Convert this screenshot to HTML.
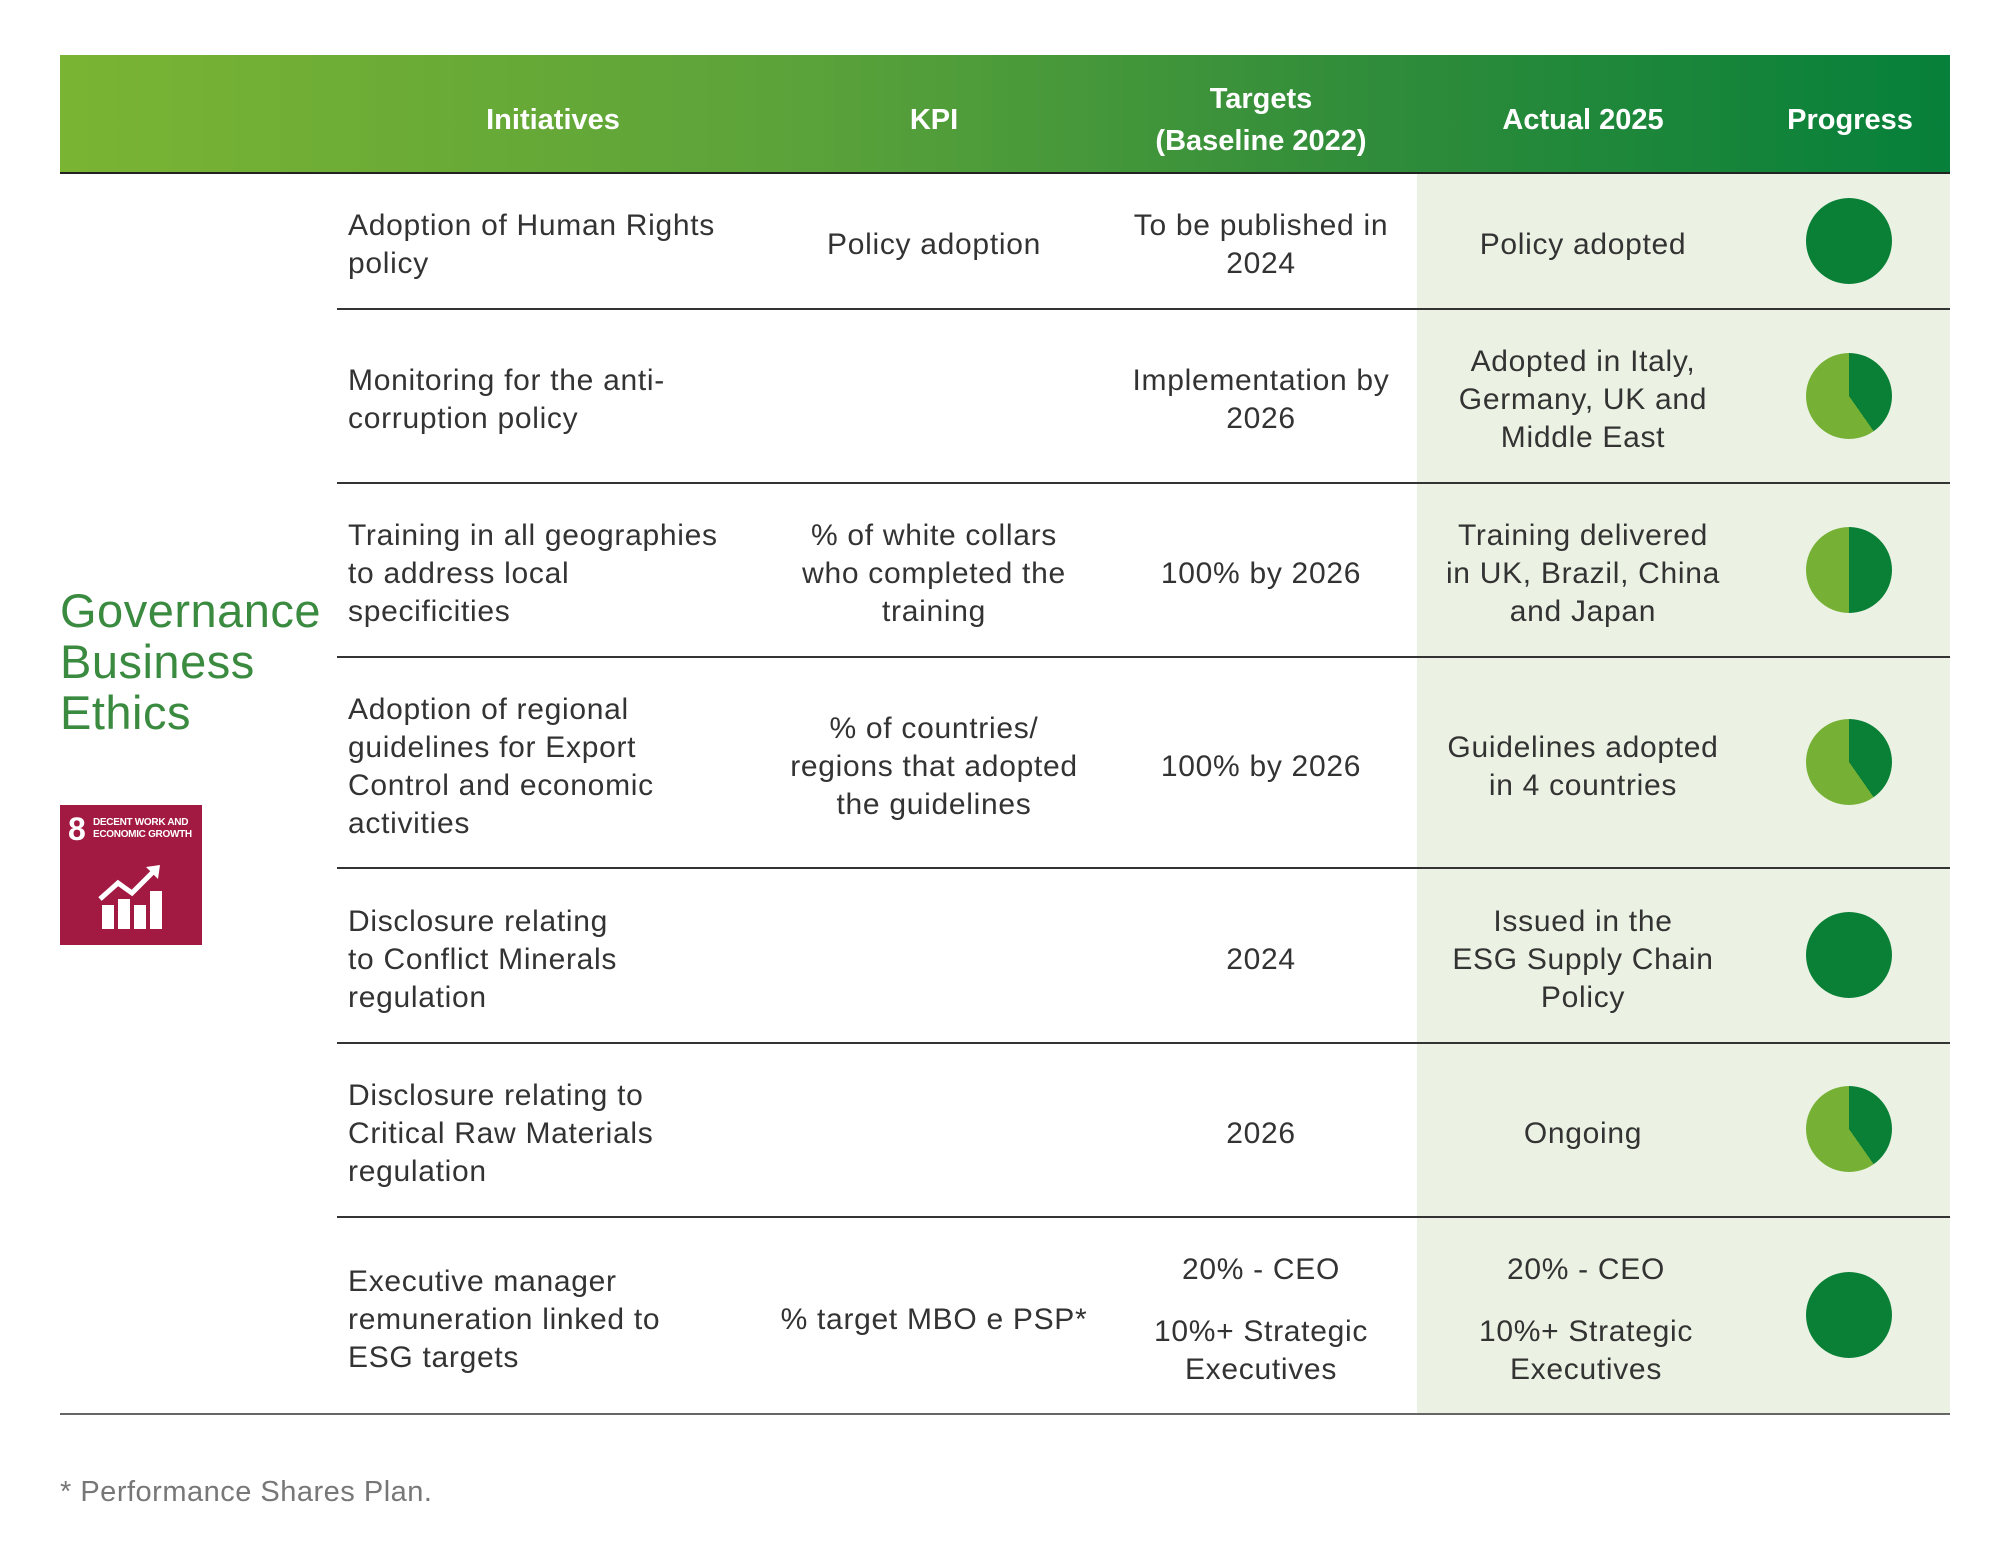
<!DOCTYPE html>
<html><head><meta charset="utf-8"><style>
body{margin:0;width:2010px;height:1561px;background:#fff;position:relative;overflow:hidden;font-family:"Liberation Sans",sans-serif;color:#333}
.a{position:absolute}
.hdr{left:60px;top:55px;width:1890px;height:117px;background:linear-gradient(90deg,#7ab433 0%,#5aa23a 40%,#2f8c3a 70%,#06803a 100%);border-bottom:2px solid #222}
.h{position:absolute;color:#fff;font-weight:bold;font-size:29px;text-align:center;line-height:42px;display:flex;align-items:center;justify-content:center}
.shade{left:1417px;top:174px;width:533px;height:1240px;background:#ebf2e3}
.line{position:absolute;height:2px;background:#333}
.c{position:absolute;display:flex;align-items:center;font-size:30px;line-height:38px;letter-spacing:0.7px;transform:translateY(5px)}
.cc{justify-content:center;text-align:center}
.pie{position:absolute;width:86px;height:86px;border-radius:50%}
</style></head><body>
<div class="a hdr"></div>
<div class="h" style="left:348px;top:61px;width:410px;height:117px">Initiatives</div>
<div class="h" style="left:774px;top:61px;width:320px;height:117px">KPI</div>
<div class="h" style="left:1104px;top:61px;width:314px;height:117px">Targets<br>(Baseline 2022)</div>
<div class="h" style="left:1423px;top:61px;width:320px;height:117px">Actual 2025</div>
<div class="h" style="left:1752px;top:61px;width:196px;height:117px">Progress</div>
<div class="a shade"></div>

<div class="line" style="left:337px;top:308px;width:1613px"></div>
<div class="line" style="left:337px;top:482px;width:1613px"></div>
<div class="line" style="left:337px;top:656px;width:1613px"></div>
<div class="line" style="left:337px;top:867px;width:1613px"></div>
<div class="line" style="left:337px;top:1042px;width:1613px"></div>
<div class="line" style="left:337px;top:1216px;width:1613px"></div>
<div class="line" style="left:60px;top:1413px;width:1890px;background:#666"></div>

<div class="a" style="left:60px;top:585px;font-size:47px;line-height:51px;color:#3a8a40;letter-spacing:0.5px">Governance<br>Business<br>Ethics</div>
<div class="a" style="left:60px;top:805px;width:142px;height:140px;background:#a21942;color:#fff">
 <div class="a" style="left:8px;top:8px;font-size:32px;font-weight:bold;line-height:32px">8</div>
 <div class="a" style="left:33px;top:12px;font-size:10px;font-weight:bold;line-height:12px;letter-spacing:-0.3px">DECENT WORK AND<br>ECONOMIC GROWTH</div>
 <svg class="a" style="left:38px;top:60px" width="66" height="66" viewBox="0 0 66 66">
  <rect x="4" y="40" width="12" height="24" fill="#fff"/><rect x="20" y="34" width="12" height="30" fill="#fff"/><rect x="36" y="40" width="12" height="24" fill="#fff"/><rect x="52" y="26" width="12" height="38" fill="#fff"/>
  <polyline points="2,34 20,18 34,28 56,6" fill="none" stroke="#fff" stroke-width="5"/><polygon points="48,2 62,0 60,14" fill="#fff"/>
 </svg>
</div>

<!-- row1 -->
<div class="c" style="left:348px;top:172px;width:440px;height:136px">Adoption of Human Rights<br>policy</div>
<div class="c cc" style="left:764px;top:172px;width:340px;height:136px">Policy adoption</div>
<div class="c cc" style="left:1101px;top:172px;width:320px;height:136px">To be published in<br>2024</div>
<div class="c cc" style="left:1423px;top:172px;width:320px;height:136px">Policy adopted</div>
<!-- row2 -->
<div class="c" style="left:348px;top:308px;width:440px;height:174px">Monitoring for the anti-<br>corruption policy</div>
<div class="c cc" style="left:1101px;top:308px;width:320px;height:174px">Implementation by<br>2026</div>
<div class="c cc" style="left:1423px;top:308px;width:320px;height:174px">Adopted in Italy,<br>Germany, UK and<br>Middle East</div>
<!-- row3 -->
<div class="c" style="left:348px;top:482px;width:440px;height:174px">Training in all geographies<br>to address local<br>specificities</div>
<div class="c cc" style="left:764px;top:482px;width:340px;height:174px">% of white collars<br>who completed the<br>training</div>
<div class="c cc" style="left:1101px;top:482px;width:320px;height:174px">100% by 2026</div>
<div class="c cc" style="left:1423px;top:482px;width:320px;height:174px">Training delivered<br>in UK, Brazil, China<br>and Japan</div>
<!-- row4 -->
<div class="c" style="left:348px;top:656px;width:440px;height:211px">Adoption of regional<br>guidelines for Export<br>Control and economic<br>activities</div>
<div class="c cc" style="left:754px;top:656px;width:360px;height:211px">% of countries/<br>regions that adopted<br>the guidelines</div>
<div class="c cc" style="left:1101px;top:656px;width:320px;height:211px">100% by 2026</div>
<div class="c cc" style="left:1423px;top:656px;width:320px;height:211px">Guidelines adopted<br>in 4 countries</div>
<!-- row5 -->
<div class="c" style="left:348px;top:867px;width:440px;height:175px">Disclosure relating<br>to Conflict Minerals<br>regulation</div>
<div class="c cc" style="left:1101px;top:867px;width:320px;height:175px">2024</div>
<div class="c cc" style="left:1423px;top:867px;width:320px;height:175px">Issued in the<br>ESG Supply Chain<br>Policy</div>
<!-- row6 -->
<div class="c" style="left:348px;top:1042px;width:440px;height:174px">Disclosure relating to<br>Critical Raw Materials<br>regulation</div>
<div class="c cc" style="left:1101px;top:1042px;width:320px;height:174px">2026</div>
<div class="c cc" style="left:1423px;top:1042px;width:320px;height:174px">Ongoing</div>
<!-- row7 -->
<div class="c" style="left:348px;top:1216px;width:440px;height:197px">Executive manager<br>remuneration linked to<br>ESG targets</div>
<div class="c cc" style="left:754px;top:1216px;width:360px;height:197px">% target MBO e PSP*</div>
<div class="c cc" style="left:1101px;top:1246px;width:320px;"><div>20% - CEO<div style="height:24px"></div>10%+ Strategic<br>Executives</div></div>
<div class="c cc" style="left:1426px;top:1246px;width:320px;"><div>20% - CEO<div style="height:24px"></div>10%+ Strategic<br>Executives</div></div>

<!-- pies -->
<div class="pie" style="left:1806px;top:198px;background:#0a8037"></div>
<div class="pie" style="left:1806px;top:353px;background:conic-gradient(#0a8037 0deg 145deg,#76b136 145deg 360deg)"></div>
<div class="pie" style="left:1806px;top:527px;background:conic-gradient(#0a8037 0deg 180deg,#76b136 180deg 360deg)"></div>
<div class="pie" style="left:1806px;top:719px;background:conic-gradient(#0a8037 0deg 145deg,#76b136 145deg 360deg)"></div>
<div class="pie" style="left:1806px;top:912px;background:#0a8037"></div>
<div class="pie" style="left:1806px;top:1086px;background:conic-gradient(#0a8037 0deg 145deg,#76b136 145deg 360deg)"></div>
<div class="pie" style="left:1806px;top:1272px;background:#0a8037"></div>

<div class="a" style="left:60px;top:1476px;font-size:29px;color:#777;letter-spacing:0.5px">* Performance Shares Plan.</div>
</body></html>
